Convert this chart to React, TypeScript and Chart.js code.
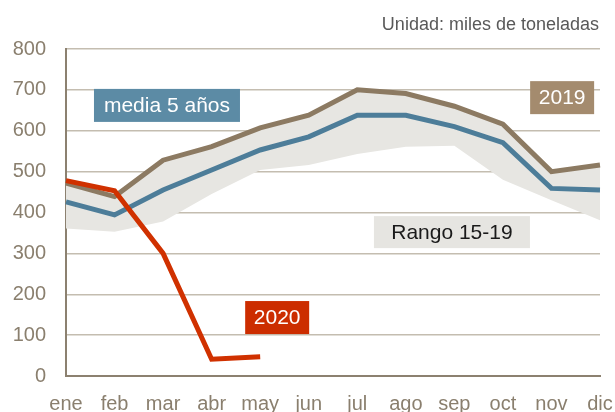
import React, { useEffect, useRef } from "react";
import { Chart, registerables } from "chart.js";

Chart.register(...registerables);

const months = ["ene", "feb", "mar", "abr", "may", "jun", "jul", "ago", "sep", "oct", "nov", "dic"];
const serie2019 = [472, 439, 528, 561, 607, 638, 700, 691, 660, 616, 500, 516];
const media5 = [426, 394, 455, 504, 553, 585, 638, 638, 610, 571, 459, 455];
const rangoMin = [361, 353, 378, 445, 504, 516, 543, 561, 563, 480, 430, 381];
const rangoMax = [472, 439, 528, 561, 607, 638, 700, 691, 660, 616, 500, 516];
const serie2020 = [478, 453, 300, 41, 47, null, null, null, null, null, null, null];
const yTicks = [0, 100, 200, 300, 400, 500, 600, 700, 800];

const unitText = "Unidad: miles de toneladas";

type Lbl = { text: string; xi: number; yv: number; w: number; h: number; bg: string; fg: string };
const labels: Lbl[] = [
  { text: "media 5 años", xi: 2.08, yv: 662, w: 146, h: 33, bg: "#5C8BA5", fg: "#ffffff" },
  { text: "2019", xi: 10.22, yv: 681, w: 64, h: 33, bg: "#A48B6E", fg: "#ffffff" },
  { text: "2020", xi: 4.35, yv: 143, w: 64, h: 33, bg: "#CC2D00", fg: "#ffffff" },
  { text: "Rango 15-19", xi: 7.95, yv: 352, w: 156, h: 32, bg: "#E6E5E1", fg: "#1a1a1a" },
];

const labelPlugin = {
  id: "labelBoxes",
  afterDatasetsDraw(chart: any) {
    const { ctx, scales } = chart;
    const xs = scales.x;
    const ys = scales.y;
    ctx.save();
    for (const l of labels) {
      const i0 = Math.floor(l.xi);
      const p0 = xs.getPixelForValue(i0);
      const p1 = xs.getPixelForValue(i0 + 1);
      const cx = p0 + (p1 - p0) * (l.xi - i0);
      const cy = ys.getPixelForValue(l.yv);
      ctx.fillStyle = l.bg;
      ctx.fillRect(cx - l.w / 2, cy - l.h / 2, l.w, l.h);
      ctx.fillStyle = l.fg;
      ctx.font = "21px 'Liberation Sans', Arial, sans-serif";
      ctx.textAlign = "center";
      ctx.textBaseline = "middle";
      ctx.fillText(l.text, cx, cy + 1);
    }
    ctx.font = "18px 'Liberation Sans', Arial, sans-serif";
    ctx.fillStyle = "#595959";
    ctx.textAlign = "right";
    ctx.textBaseline = "middle";
    ctx.fillText(unitText, chart.chartArea.right - 1, 25);
    ctx.restore();
  },
};

export default function App() {
  const ref = useRef<HTMLCanvasElement>(null);
  useEffect(() => {
    document.body.style.margin = "0";
    const c = new Chart(ref.current!, {
      type: "line",
      data: {
        labels: months,
        datasets: [
          {
            label: "2020",
            data: serie2020,
            borderColor: "#D03100",
            borderWidth: 5,
            pointRadius: 0,
            fill: false,
            spanGaps: false,
          },
          {
            label: "media 5 años",
            data: media5,
            borderColor: "#4D7D99",
            borderWidth: 5,
            pointRadius: 0,
            fill: false,
          },
          {
            label: "2019",
            data: serie2019,
            borderColor: "#8C7A62",
            borderWidth: 5,
            pointRadius: 0,
            fill: false,
          },
          {
            label: "rangoMin",
            data: rangoMin,
            borderColor: "rgba(0,0,0,0)",
            borderWidth: 0,
            pointRadius: 0,
            fill: false,
          },
          {
            label: "rangoMax",
            data: rangoMax,
            borderColor: "rgba(0,0,0,0)",
            borderWidth: 0,
            pointRadius: 0,
            backgroundColor: "#E7E6E2",
            fill: "-1",
          },
        ],
      },
      options: {
        animation: false,
        responsive: false,
        maintainAspectRatio: false,
        layout: { padding: { top: 49, right: 15, left: 0, bottom: 0 } },
        plugins: {
          legend: { display: false },
          tooltip: { enabled: false },
          title: { display: false },
        },
        elements: { line: { tension: 0, borderJoinStyle: "miter" } },
        scales: {
          x: {
            offset: false,
            grid: { display: false },
            border: { display: true, color: "#8C8170", width: 2 },
            ticks: {
              color: "#8A7F6E",
              font: { size: 20, family: "'Liberation Sans', Arial, sans-serif" },
              padding: 8,
              maxRotation: 0,
              autoSkip: false,
            },
            afterFit: (s: any) => {
              s.height = 36;
              s.paddingRight = 0;
              s.paddingLeft = 0;
            },
          },
          y: {
            min: 0,
            max: 800,
            afterBuildTicks: (s: any) => {
              s.ticks = yTicks.map((v) => ({ value: v }));
            },
            grid: { color: "#C4BDB0", lineWidth: 1.5, drawTicks: false },
            border: { display: true, color: "#8C8170", width: 2 },
            ticks: {
              color: "#8A7F6E",
              font: { size: 20, family: "'Liberation Sans', Arial, sans-serif" },
              padding: 20,
            },
            afterFit: (s: any) => {
              s.width = 66;
            },
          },
        },
      },
      plugins: [labelPlugin],
    });
    return () => c.destroy();
  }, []);
  return (
    <div style={{ width: 615, height: 412 }}>
      <canvas ref={ref} width={615} height={412} />
    </div>
  );
}
